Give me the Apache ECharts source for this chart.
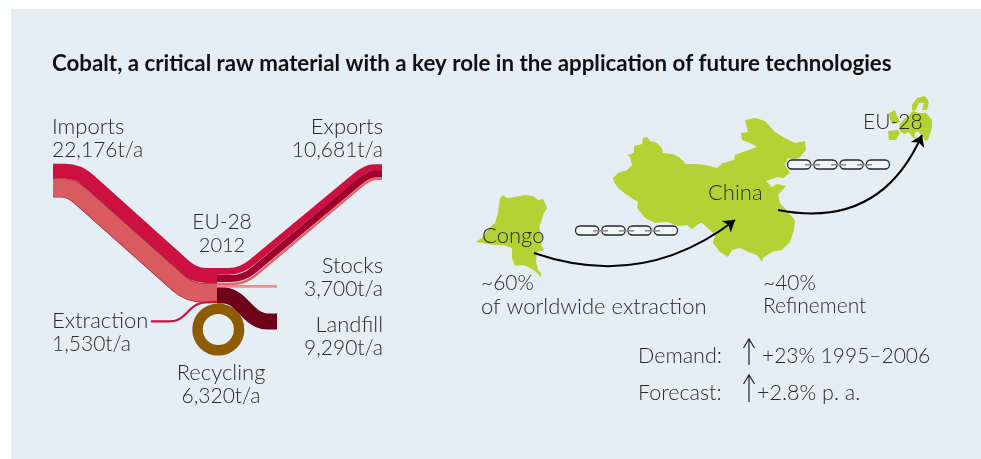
<!DOCTYPE html>
<html>
<head>
<meta charset="utf-8">
<title>Cobalt</title>
<style>
  html, body { margin: 0; padding: 0; background: #fff; }
  #chart { width: 981px; height: 459px; }
</style>
<script src="https://cdn.jsdelivr.net/npm/echarts@6/dist/echarts.min.js"></script>
</head>
<body>
<div id="chart"></div>
<script>
// flows of the EU-28 cobalt balance, t/a
const flowNames = ["Imports", "Exports", "Stocks", "Landfill", "Extraction", "Recycling"];
const flowValues = [22176, 10681, 3700, 9290, 1530, 6320];

// country outlines, page pixels (fed to the map as geojson)
const congoOutline = [[476,242],[483,237],[490,227],[495,223],[498,213],[500,198],[503,195],[507,198],[515,197],[525,195],[533,196],[538,200],[543,199],[545,203],[547,208],[544,213],[541,222],[539,228],[542,235],[541,245],[544,250],[537,252],[536,262],[538,270],[541,273],[541,277],[535,271],[528,267],[523,265],[515,266],[512,258],[512,248],[503,245],[493,245],[483,243]];
const chinaOutline = [[613,178],[618,173],[627,170],[632,165],[630,157],[627,155],[634,153],[634,146],[642,144],[643,138],[647,137],[650,141],[657,143],[662,148],[663,153],[673,154],[680,158],[686,164],[695,164],[705,165],[717,168],[723,163],[734,160],[735,155],[743,152],[757,147],[750,143],[742,140],[741,133],[748,132],[745,120],[755,118],[765,121],[775,132],[783,137],[795,143],[805,141],[806,150],[800,157],[795,160],[788,158],[785,165],[790,173],[783,178],[778,177],[766,181],[772,187],[777,184],[786,186],[778,195],[780,203],[788,212],[795,220],[794,230],[790,242],[782,250],[772,252],[763,258],[762,262],[757,255],[748,252],[740,248],[732,250],[728,257],[720,252],[713,243],[715,235],[710,230],[702,223],[700,223],[692,229],[687,225],[678,226],[667,222],[655,223],[645,218],[637,208],[638,202],[627,195],[618,188],[614,182]];
const euOutlines = [
  [[912,105],[917,98],[925,96],[929,102],[927,110],[922,110],[924,103],[919,103],[915,111],[912,110]],
  [[889,113],[895,110],[897,116],[900,122],[893,124],[890,120]],
  [[888,131],[898,130],[900,133],[896,140],[889,140]],
  [[899,126],[903,120],[909,115],[913,111],[919,113],[926,113],[932,120],[932,128],[930,134],[928,140],[925,141],[922,135],[917,131],[914,135],[918,141],[912,137],[909,132],[904,134],[900,131]]
];

// trade routes between the maps
const routes = [
  { from: [534, 253], to: [735, 220], curve: -0.27 },
  { from: [778, 210], to: [922, 135], curve: -0.4 }
];
const chainOrigins = [[575, 226], [787, 160]];

// bands of the sankey, drawn back to front. bend = corner radius
const bands = [
  { color: "#cc1040", width: 15, bend: 14, points: [[53,171.3],[78,171.3],[194,275.5],[217,275.5]] },
  { color: "#8c2f3c", width: 19.6, bend: 14, points: [[53,187.8],[71.3,187.8],[189.2,292.7],[217,292.7]] },
  { color: "#d95b5f", width: 18.4, bend: 14, points: [[53,187.8],[71.3,187.8],[189.2,292.7],[217,292.7]] },
  { color: "#cc1040", width: 6.8, bend: 14, points: [[217,271.4],[241,271.4],[366,167.7],[382,167.7]] },
  { color: "#a0002d", width: 7, bend: 14, points: [[217,278.6],[243.5,278.6],[368.5,174.1],[382,174.1]] },
  { color: "#e0666a", width: 2.4, bend: 14, points: [[217,284],[245.2,284],[370.2,178.8],[382,178.8]] },
  { color: "#e8908f", width: 2.7, bend: 0, points: [[217,286.4],[277,286.4]] },
  { color: "#6f0019", width: 16, bend: 12, points: [[217,295.5],[232,295.5],[258,321.5],[277,321.5]] },
  { color: "#cc1040", width: 2.2, bend: 8, points: [[151,321.4],[178,321.4],[197,303],[217,301.8]] }
];
const recyclingRing = { center: [218.3, 329.5], r: 20.8, width: 10.5, color: "#8f5b00" };

const textColor = "#2a2a2a";
const font = "Lato";

// name line and value line of a flow
function flowLabel(name) {
  const i = flowNames.indexOf(name);
  return [name, flowValues[i].toLocaleString("en-US") + "t/a"];
}

// text: [string, x, y(middle), align, size]
const labels = [];
function addLabel(lines, x, y, align, sizes) {
  lines.forEach((line, i) => labels.push([line, x, y + i * 23.5, align, sizes[i]]));
}
addLabel(flowLabel("Imports"), 52, 127, "left", [22, 21]);
addLabel(flowLabel("Exports"), 383, 127, "right", [22, 21]);
addLabel(["EU-28", "2012"], 222, 222, "center", [21, 20]);
addLabel(flowLabel("Stocks"), 383, 266, "right", [22, 21]);
addLabel(flowLabel("Landfill"), 383, 325, "right", [22, 21]);
addLabel(flowLabel("Extraction"), 52, 321, "left", [22, 21]);
addLabel(flowLabel("Recycling"), 221, 373, "center", [22, 21]);
addLabel(["Congo"], 482, 236, "left", [22]);
addLabel(["China"], 708, 193, "left", [22]);
addLabel(["EU-28"], 863, 122, "left", [21]);
addLabel(["~60%", "of worldwide extraction"], 481, 283, "left", [21, 22]);
addLabel(["~40%", "Refinement"], 763, 283, "left", [21, 21]);
addLabel(["Demand:"], 638, 356, "left", [21.5]);
addLabel(["+23% 1995\u20132006"], 762, 356, "left", [21]);
addLabel(["Forecast:"], 638, 393, "left", [21.5]);
addLabel(["+2.8% p. a."], 757, 393, "left", [21.5]);

function feature(name, polys) {
  return {
    type: "Feature",
    properties: { name: name },
    geometry: { type: "MultiPolygon", coordinates: polys.map(p => [p.concat([p[0]])]) }
  };
}
echarts.registerMap("cobalt", {
  type: "FeatureCollection",
  features: [feature("Congo", [congoOutline]), feature("China", [chinaOutline]), feature("EU-28", euOutlines)]
});

// line with rounded corners
function roundedPath(pts, r) {
  let d = "M" + pts[0][0] + " " + pts[0][1];
  for (let i = 1; i < pts.length - 1; i++) {
    const p = pts[i], a = pts[i - 1], b = pts[i + 1];
    const la = Math.hypot(a[0] - p[0], a[1] - p[1]);
    const lb = Math.hypot(b[0] - p[0], b[1] - p[1]);
    const ra = Math.min(r, la / 2), rb = Math.min(r, lb / 2);
    d += " L" + (p[0] + (a[0] - p[0]) * ra / la) + " " + (p[1] + (a[1] - p[1]) * ra / la);
    d += " Q" + p[0] + " " + p[1] + " " + (p[0] + (b[0] - p[0]) * rb / lb) + " " + (p[1] + (b[1] - p[1]) * rb / lb);
  }
  const last = pts[pts.length - 1];
  return d + " L" + last[0] + " " + last[1];
}

function renderBand(params, api) {
  const b = bands[params.dataIndex];
  const pts = b.points.map(p => api.coord(p));
  return {
    type: "path",
    shape: { pathData: roundedPath(pts, b.bend) },
    style: { fill: "none", stroke: b.color, lineWidth: b.width }
  };
}

function renderRing(params, api) {
  const c = api.coord(recyclingRing.center);
  return {
    type: "circle",
    shape: { cx: c[0], cy: c[1], r: recyclingRing.r },
    style: { fill: "none", stroke: recyclingRing.color, lineWidth: recyclingRing.width }
  };
}

// four links, grey bars show where they hook together
function renderChain(params, api) {
  const o = api.coord(chainOrigins[params.dataIndex]);
  const children = [];
  [0, 26.3, 52.4, 78.7].forEach(dx => {
    children.push({
      type: "rect",
      shape: { x: o[0] + dx + 0.5, y: o[1], width: 23.3, height: 9, r: 4.5 },
      style: { fill: "#f2f5f7", stroke: "#23262b", lineWidth: 1.3 }
    });
  });
  [18, 44, 70].forEach(dx => {
    children.push({
      type: "rect",
      shape: { x: o[0] + dx, y: o[1] + 4, width: 15, height: 1.6 },
      style: { fill: "#8d8f91" }
    });
  });
  return { type: "group", children: children };
}

const upArrows = [[749, 339, 365], [749, 375, 402]];

const chart = echarts.init(document.getElementById("chart"), null, { renderer: "canvas" });
chart.setOption({
  animation: false,
  title: {
    text: "Cobalt, a critical raw material with a key role in the application of future technologies",
    left: 52,
    top: 53,
    padding: 0,
    textStyle: { fontFamily: font, fontWeight: 700, fontSize: 22.3, color: "#111" }
  },
  geo: {
    map: "cobalt",
    projection: { project: p => p, unproject: p => p },
    boundingCoords: [[0, 0], [981, 459]],
    left: 0,
    top: 0,
    width: 981,
    height: 459,
    silent: true,
    label: { show: false },
    itemStyle: { areaColor: "#b3d334", borderWidth: 0 },
    emphasis: { disabled: true }
  },
  graphic: [
    { type: "rect", z: -10, silent: true, shape: { x: 11, y: 9, width: 970, height: 450 }, style: { fill: "#e5eef4" } }
  ].concat(upArrows.map(a => ({
    type: "polyline",
    z: 60,
    silent: true,
    shape: { points: [[a[0], a[2]], [a[0], a[1]]] },
    style: { stroke: "#222", lineWidth: 1.2, fill: "none" }
  }))).concat(upArrows.map(a => ({
    type: "polyline",
    z: 60,
    silent: true,
    shape: { points: [[a[0] - 5.5, a[1] + 9], [a[0], a[1]], [a[0] + 5.5, a[1] + 9]] },
    style: { stroke: "#222", lineWidth: 1.2, fill: "none" }
  }))).concat(labels.map(l => ({
    type: "text",
    z: 100,
    silent: true,
    x: l[1],
    y: l[2],
    style: {
      text: l[0],
      fontFamily: font,
      fontWeight: 300,
      fontSize: l[4],
      fill: textColor,
      align: l[3],
      verticalAlign: "middle"
    }
  }))),
  series: [
    {
      type: "custom",
      name: "flows",
      coordinateSystem: "geo",
      silent: true,
      z: 3,
      renderItem: renderBand,
      data: bands.map(b => b.points[0])
    },
    {
      type: "custom",
      name: "recycling",
      coordinateSystem: "geo",
      silent: true,
      z: 4,
      renderItem: renderRing,
      data: [recyclingRing.center]
    },
    {
      type: "custom",
      name: "chains",
      coordinateSystem: "geo",
      silent: true,
      z: 5,
      renderItem: renderChain,
      data: chainOrigins
    },
    {
      type: "lines",
      name: "routes",
      coordinateSystem: "geo",
      silent: true,
      z: 6,
      symbol: ["none", "arrow"],
      symbolSize: 11,
      lineStyle: { color: "#000", width: 2, opacity: 1 },
      data: routes.map(r => ({ coords: [r.from, r.to], lineStyle: { curveness: r.curve } }))
    }
  ]
});
</script>
</body>
</html>
